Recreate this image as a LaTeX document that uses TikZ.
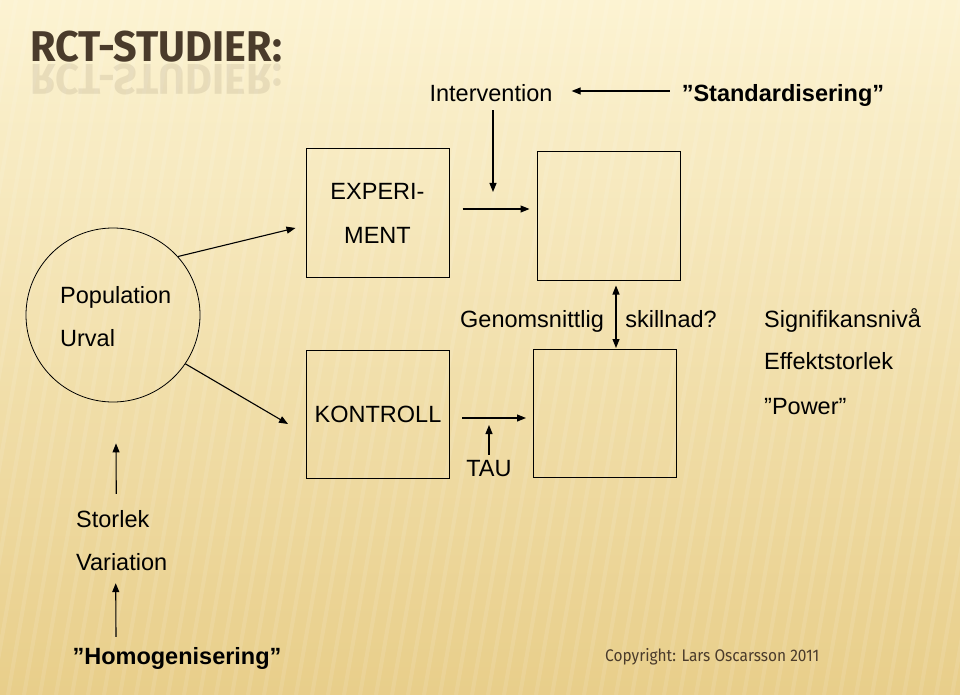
\documentclass[tikz,border=0pt]{standalone}
\usepackage{fontspec}
\setmainfont{Liberation Sans}
\newfontfamily\titlefont[FakeStretch=0.96]{Fira Sans}
\newfontfamily\smallfont[FakeStretch=0.92]{Fira Sans}
\usetikzlibrary{arrows.meta,positioning}

\definecolor{bgtop}{HTML}{FCF3D2}
\definecolor{bgmid}{HTML}{F6E3A8}
\definecolor{bgbot}{HTML}{E8CE8A}
\definecolor{titlebrown}{HTML}{4A3B2B}

\tikzset{
  box/.style={draw, line width=1pt, minimum width=143pt, minimum height=128pt, inner sep=0pt,
    align=center, font=\fontsize{23.5}{44}\selectfont},
  lbl/.style={font=\fontsize{23.5}{44}\selectfont, inner sep=0pt, text height=17pt, text depth=5pt},
  bold lbl/.style={lbl, font=\fontsize{23.5}{44}\selectfont\bfseries},
  arr/.style={-{Triangle[length=9pt,width=7pt]}, line width=1.1pt},
  dblarr/.style={{Triangle[length=9pt,width=7pt]}-{Triangle[length=9pt,width=7pt]}, line width=1.1pt},
  title/.style={font=\titlefont\bfseries\fontsize{43}{50}\selectfont, text=titlebrown, inner sep=0pt},
}

\begin{document}
\begin{tikzpicture}[x=1pt, y=-1pt]
	\useasboundingbox (0,0) rectangle (960,695);
	% background
	\shade[top color=bgtop, middle color=bgmid, bottom color=bgbot] (0,0) rectangle (960,695);
	\begin{scope}
		\clip (0,0) rectangle (960,695);
		\foreach \s in {0,16,...,1200} {\draw[white, opacity=0.10, line width=4pt] (\s,0) -- (\s-120,695);}
	\end{scope}

	% title with its reflection
	\node[title, anchor=base west] (title) at (30,62) {RCT-STUDIER:};
	\node[title, anchor=base west, yscale=-1, transform shape, opacity=0.10] (titlerefl) at (30,65) {RCT-STUDIER:};

	% top row
	\node[lbl, anchor=base] (int) at (491,102) {Intervention};
	\node[bold lbl, anchor=base] (std) at (783,102) {”Standardisering”};
	\draw[arr] ([shift={(-12pt,5pt)}]std.west) -- ([shift={(19pt,5pt)}]int.east);

	% population
	\node[draw, circle, line width=0.8pt, minimum size=174pt, inner sep=0pt] (pop) at (113,315) {};
	\node[lbl, anchor=base west] (popl) at (60,303) {Population};
	\node[lbl, anchor=base west] (urv) at (60,346) {Urval};

	% groups
	\node[box] (exp) at (377.5,213) {EXPERI-\\MENT};
	\node[box] (kon) at (378,414) {KONTROLL};
	\node[box] (res1) at (608.5,216) {};
	\node[box] (res2) at (605,413.5) {};

	\coordinate (intpt) at (493,192);
	\coordinate (taupt) at (489,425);
	\draw[arr] ([xshift=2pt,yshift=-3pt]int.south) -- (intpt);
	\draw[arr] (pop.42) -- ([shift={(-10pt,-15pt)}]exp.west);
	\draw[arr] (pop.-34) -- ([shift={(-18pt,-10pt)}]kon.west);
	\draw[arr] ([shift={(13pt,4pt)}]exp.east) -- ([shift={(-7pt,7pt)}]res1.west);
	\draw[arr] ([shift={(12pt,-4pt)}]kon.east) -- ([shift={(-7pt,-4.5pt)}]res2.west);

	\node[lbl, anchor=base] (tau) at (489,476) {TAU};
	\draw[arr] ([yshift=4pt]tau.north) -- (taupt);

	% difference
	\draw[dblarr] ([xshift=7.5pt,yshift=-5pt]res1.south) -- ([xshift=11pt,yshift=1pt]res2.north);
	\node[lbl, anchor=base] (gen) at (532,327) {Genomsnittlig};
	\node[lbl, anchor=base] (skn) at (671,327) {skillnad?};
	\node[lbl, anchor=base west] (sig) at (764,327) {Signifikansnivå};
	\node[lbl, anchor=base west] (eff) at (764,369) {Effektstorlek};
	\node[lbl, anchor=base west] (pow) at (764,414) {”Power”};

	% sample
	\node[lbl, anchor=base west] (stor) at (76,527) {Storlek};
	\node[lbl, anchor=base west] (var) at (76,570) {Variation};
	\node[bold lbl, anchor=base] (hom) at (177,664) {”Homogenisering”};
	\draw[arr] ([shift={(3.5pt,16pt)}]stor.north) -- ([shift={(3pt,-41pt)}]pop.south);
	\draw[arr] ([shift={(-61pt,10pt)}]hom.north) -- ([shift={(-6pt,-8pt)}]var.south);

	\node[font=\smallfont\fontsize{16.8}{20}\selectfont, text=titlebrown, inner sep=0pt, anchor=base west] (copy) at (605,661) {Copyright: Lars Oscarsson 2011};
\end{tikzpicture}
\end{document}
